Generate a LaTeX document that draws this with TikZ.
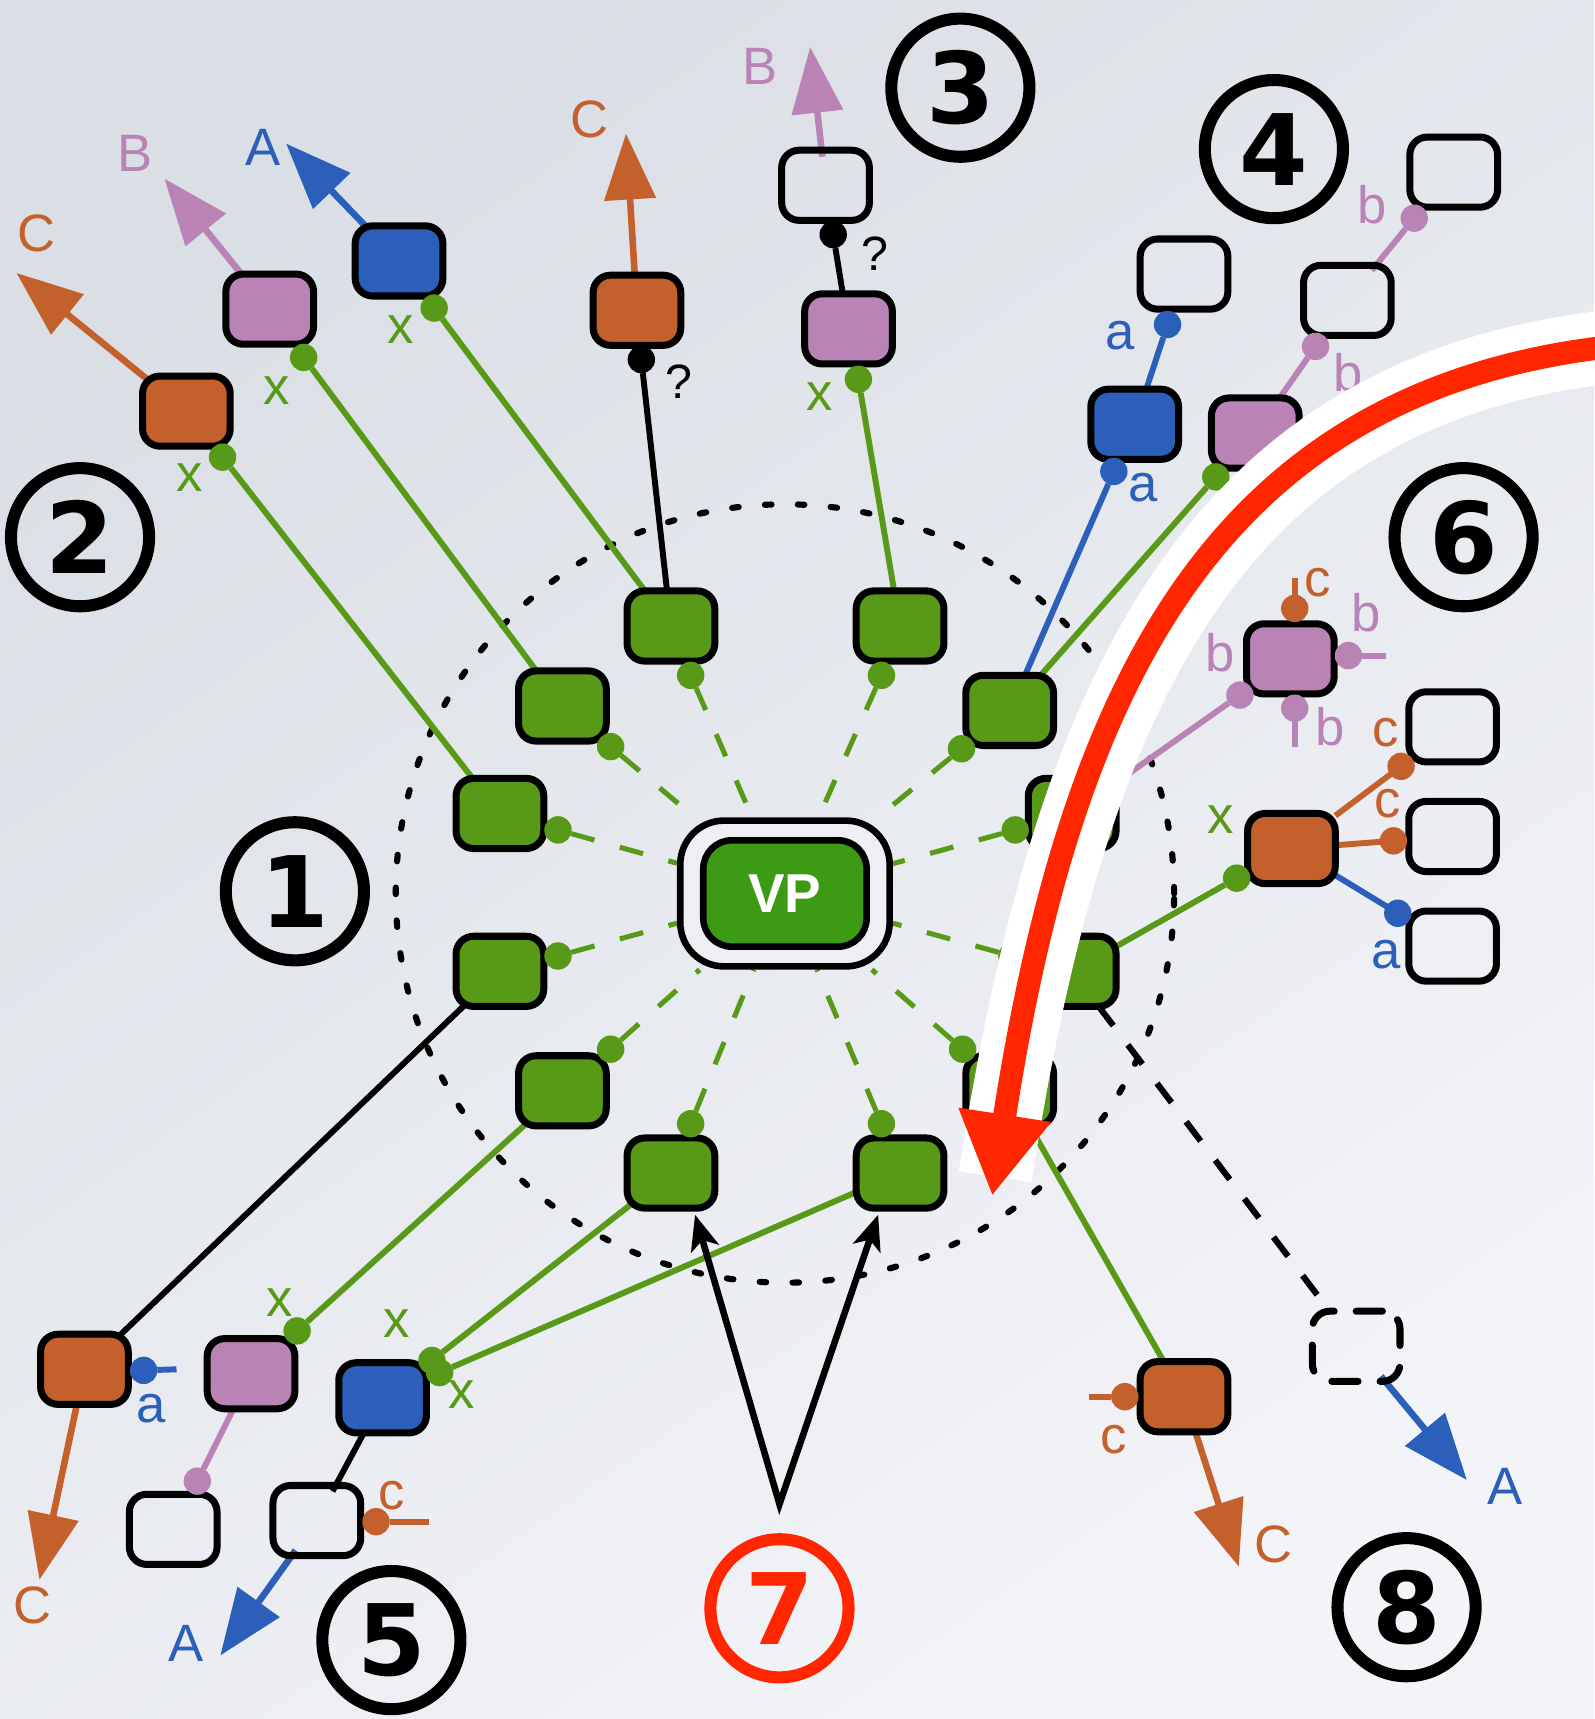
\documentclass[tikz,border=0pt]{standalone}
\usepackage{fontspec}
\setmainfont{Liberation Sans}
\newfontfamily\numfont{DejaVu Sans}
\usetikzlibrary{arrows.meta,calc}
\definecolor{bgA}{HTML}{DADFE5}
\definecolor{bgB}{HTML}{F3F4F8}
\definecolor{vpring}{HTML}{EDEFF3}
\definecolor{grn}{HTML}{589A17}
\definecolor{vpg}{HTML}{3C9A14}
\definecolor{org}{HTML}{C4602B}
\definecolor{pnk}{HTML}{B983B6}
\definecolor{blu}{HTML}{2B5FBA}
\definecolor{redc}{HTML}{FF2600}
\pgfdeclarelayer{back}
\pgfdeclarelayer{lines}
\pgfdeclarelayer{front}
\pgfsetlayers{back,lines,main,front}
\begin{document}
\begin{tikzpicture}[x=0.5pt,y=-0.5pt,
  rbox/.style={draw=black,line width=3.2pt,rounded corners=8pt,minimum width=40pt,minimum height=32pt,inner sep=0pt,outer sep=0pt},
  gbx/.style={rbox,fill=grn},
  obx/.style={rbox,fill=org},
  pbx/.style={rbox,fill=pnk},
  bbx/.style={rbox,fill=blu},
  wbx/.style={rbox},
  dbx/.style={rbox,dash pattern=on 12pt off 10pt,line cap=round},
  port/.style={circle,inner sep=0pt,outer sep=0pt,minimum size=12.5pt},
  gport/.style={port,fill=grn},
  oport/.style={port,fill=org},
  pport/.style={port,fill=pnk},
  bport/.style={port,fill=blu},
  kport/.style={port,fill=black},
  con/.style={line width=2.7pt,shorten >=-3pt},
  gcon/.style={con,draw=grn},
  ocon/.style={con,draw=org},
  pcon/.style={con,draw=pnk},
  bcon/.style={con,draw=blu},
  kcon/.style={con,draw=black},
  stub/.style={line width=2.7pt},
  gdash/.style={draw=grn,line width=2.3pt,dash pattern=on 11pt off 12pt},
  arr/.style={line width=3pt,shorten <=-3pt,-{Triangle[length=30pt,width=23pt]}},
  karr/.style={line width=3pt,line join=miter,{Stealth[length=16pt,width=13pt,inset=4pt]}-{Stealth[length=16pt,width=13pt,inset=4pt]}},
  lab/.style={inner sep=0pt,font=\fontsize{24}{24}\selectfont},
  qlab/.style={inner sep=0pt,font=\fontsize{22}{22}\selectfont,text=black},
  num/.style={circle,draw=black,line width=5.5pt,minimum size=63pt,inner sep=0pt,font=\numfont\bfseries\fontsize{45}{45}\selectfont},
]
\useasboundingbox (0,0) rectangle (1454,1568);
\begin{pgfonlayer}{back}
\shade[top color=bgA,bottom color=bgB,shading angle=35] (0,0) rectangle (1454,1568);
\draw[line width=2.8pt,dash pattern=on 3pt off 12pt,line cap=round] (716,815) circle[radius=177.5pt];
\end{pgfonlayer}

% ---------- central VP ----------
\node[draw=black,line width=3pt,fill=vpring,rounded corners=20pt,minimum width=95.5pt,minimum height=66.5pt,inner sep=0pt] (vpo) at (716,815) {};
\node[draw=black,line width=3pt,fill=vpg,rounded corners=13pt,minimum width=74.5pt,minimum height=48.5pt,inner sep=0pt,text=white,font=\bfseries\fontsize{25}{25}\selectfont] (vp) at (716,815) {VP};

% ---------- green satellites ----------
\node[gbx] (g1) at (612,571) {};
\node[gbx] (g2) at (821,571) {};
\node[gbx] (g3) at (513,644) {};
\node[gbx] (g4) at (921,648) {};
\node[gbx] (g5) at (456,742) {};
\node[gbx] (g6) at (978,742) {};
\node[gbx] (g7) at (456,886) {};
\node[gbx] (g8) at (978,886) {};
\node[gbx] (g9) at (513,995) {};
\node[gbx] (g10) at (921,995) {};
\node[gbx] (g11) at (612,1070) {};
\node[gbx] (g12) at (821,1070) {};

\node[gport] (d1) at (630,616) {};
\node[gport] (d2) at (804,616) {};
\node[gport] (d3) at (557,681) {};
\node[gport] (d4) at (877,683) {};
\node[gport] (d5) at (509,757) {};
\node[gport] (d6) at (926,757) {};
\node[gport] (d7) at (509,872) {};
\node[gport] (d8) at (923,872) {};
\node[gport] (d9) at (557,957) {};
\node[gport] (d10) at (878,957) {};
\node[gport] (d11) at (630,1025) {};
\node[gport] (d12) at (804,1025) {};

\begin{pgfonlayer}{lines}
\foreach \i in {1,...,12} \draw[gdash] (d\i) -- (vpo);
\end{pgfonlayer}

% ---------- group 2 ----------
\node[obx] (o2) at (170,375) {};
\node[pbx] (p2) at (246,282) {};
\node[bbx] (b2) at (364,238) {};
\node[gport] (x2o) at (203,417) {};
\node[gport] (x2p) at (277,326) {};
\node[gport] (x2b) at (396,281) {};
\coordinate (tC2) at (15,249);
\coordinate (tB2) at (150,163);
\coordinate (tA2) at (261,131);
\node[lab,text=org] (lC2) at (33,213) {C};
\node[lab,text=pnk] (lB2) at (123,140) {B};
\node[lab,text=blu] (lA2) at (240,134) {A};
\node[lab,text=grn] (lx2o) at (173,436) {x};
\node[lab,text=grn] (lx2p) at (252,356) {x};
\node[lab,text=grn] (lx2b) at (365,301) {x};

% ---------- group 3 ----------
\node[obx] (o3) at (581,283) {};
\node[kport] (q1) at (585,328) {};
\coordinate (tC3) at (571,122);
\node[lab,text=org] (lC3) at (538,109) {C};
\node[qlab] (lq1) at (619,348) {?};
\node[pbx] (p3) at (774,300) {};
\node[gport] (x3) at (783,346) {};
\node[lab,text=grn] (lx3) at (748,362) {x};
\node[wbx] (w3) at (753,169) {};
\node[kport] (q2) at (760,214) {};
\node[qlab] (lq2) at (798,231) {?};
\coordinate (tB3) at (739,43);
\node[lab,text=pnk] (lB3) at (693,61) {B};

% ---------- group 4 ----------
\node[bbx] (b4) at (1035,387) {};
\node[bport] (a4) at (1016,430) {};
\node[lab,text=blu] (la4) at (1043,445) {a};
\node[pbx] (p4) at (1145,395) {};
\node[gport] (x4) at (1109,435) {};
\node[wbx] (wa4) at (1080,250) {};
\node[bport] (a4b) at (1065,296) {};
\node[lab,text=blu] (la4b) at (1022,306) {a};
\node[wbx] (wb4) at (1229,274) {};
\node[pport] (pb4) at (1200,316) {};
\node[lab,text=pnk] (lb4) at (1230,340) {b};
\node[wbx] (wb5) at (1326,157) {};
\node[pport] (pb5) at (1290,199) {};
\node[lab,text=pnk] (lb5) at (1252,187) {b};

% ---------- group 6 ----------
\node[pbx] (pk6) at (1177,601) {};
\node[oport] (pc6) at (1181,555) {};
\coordinate (pc6s) at (1181,527);
\node[lab,text=org] (lc6) at (1202,531) {c};
\node[pport] (pr6) at (1230,598) {};
\coordinate (pr6s) at (1264,598);
\node[lab,text=pnk] (lbr6) at (1246,559) {b};
\node[pport] (pbt6) at (1181,646) {};
\coordinate (pbt6s) at (1181,681);
\node[lab,text=pnk] (lbb6) at (1213,663) {b};
\node[pport] (pl6) at (1131,634) {};
\node[lab,text=pnk] (lbl6) at (1113,595) {b};
\node[obx] (or6) at (1178,774) {};
\node[gport] (x6) at (1128,801) {};
\node[lab,text=grn] (lx6) at (1113,748) {x};
\node[wbx] (wc1) at (1325,663) {};
\node[oport] (c61) at (1278,699) {};
\node[lab,text=org] (lc61) at (1264,668) {c};
\node[wbx] (wc2) at (1325,763) {};
\node[oport] (c62) at (1271,767) {};
\node[lab,text=org] (lc62) at (1266,733) {c};
\node[wbx] (wa6) at (1325,863) {};
\node[bport] (a6) at (1275,833) {};
\node[lab,text=blu] (la6) at (1264,871) {a};

% ---------- group 5 ----------
\node[obx] (o5) at (77,1249) {};
\node[bport] (a5) at (131,1250) {};
\coordinate (a5s) at (161,1249);
\node[lab,text=blu] (la5) at (138,1285) {a};
\coordinate (tC5) at (36,1441);
\node[lab,text=org] (lC5) at (30,1464) {C};
\node[pbx] (p5) at (229,1253) {};
\node[gport] (x5) at (271,1214) {};
\node[lab,text=grn] (lx5) at (255,1188) {x};
\node[wbx] (wp5) at (158,1395) {};
\node[pport] (pp5) at (180,1351) {};
\node[bbx] (bl5) at (349,1275) {};
\node[gport] (x5a) at (394,1241) {};
\node[gport] (x5b) at (401,1252) {};
\node[lab,text=grn] (lx5a) at (362,1207) {x};
\node[lab,text=grn] (lx5b) at (421,1272) {x};
\node[wbx] (ww5) at (289,1387) {};
\node[oport] (c5) at (343,1388) {};
\coordinate (c5s) at (391,1388);
\node[lab,text=org] (lc5) at (357,1364) {c};
\coordinate (tA5) at (201,1510);
\node[lab,text=blu] (lA5) at (170,1499) {A};

% ---------- group 8 ----------
\node[obx] (o8) at (1080,1274) {};
\coordinate (o8top) at (1061,1241);
\node[oport] (c8) at (1026,1274) {};
\coordinate (c8s) at (993,1274);
\node[lab,text=org] (lc8) at (1016,1313) {c};
\coordinate (tC8) at (1130,1429);
\node[lab,text=org] (lC8) at (1162,1409) {C};
\node[dbx] (db) at (1237,1228) {};
\coordinate (tA8) at (1338,1350);
\node[lab,text=blu] (lA8) at (1373,1356) {A};

% ---------- group 7 ----------
\coordinate (apex) at (711,1372);
\coordinate (t11) at (634,1108);
\coordinate (t12) at (801,1108);

% ---------- circled numbers ----------
\node[num] (n1) at (269,813) {1};
\node[num] (n2) at (73,490) {2};
\node[num] (n3) at (876,80) {3};
\node[num] (n4) at (1162,136) {4};
\node[num] (n5) at (357,1496) {5};
\node[num] (n6) at (1335,490) {6};
\node[num,draw=redc,text=redc] (n7) at (711,1467) {7};
\node[num] (n8) at (1283,1466) {8};

% ---------- connectors ----------
\begin{pgfonlayer}{lines}
\draw[gcon] (x2o) -- (g5);
\draw[gcon] (x2p) -- (g3);
\draw[gcon] (x2b) -- (g1);
\draw[arr,draw=org,fill=org] (o2) -- (tC2);
\draw[arr,draw=pnk,fill=pnk] (p2) -- (tB2);
\draw[arr,draw=blu,fill=blu] (b2) -- (tA2);

\draw[kcon] (q1) -- (g1);
\draw[arr,draw=org,fill=org] (o3) -- (tC3);
\draw[gcon] (x3) -- (g2);
\draw[kcon] (q2) -- (p3);
\draw[arr,draw=pnk,fill=pnk] (w3) -- (tB3);

\draw[bcon] (a4) -- (g4);
\draw[gcon] (x4) -- (g4);
\draw[bcon] (a4b) -- (b4);
\draw[pcon] (pb4) -- (p4);
\draw[pcon] (pb5) -- (wb4);

\draw[stub,draw=org] (pc6) -- (pc6s);
\draw[stub,draw=pnk] (pr6) -- (pr6s);
\draw[stub,draw=pnk] (pbt6) -- (pbt6s);
\draw[pcon] (pl6) -- (g6);
\draw[gcon] (x6) -- (g8);
\draw[ocon] (or6) -- (c61);
\draw[ocon] (or6) -- (c62);
\draw[bcon] (or6) -- (a6);

\draw[kcon] (o5) -- (g7);
\draw[stub,draw=blu] (a5) -- (a5s);
\draw[arr,draw=org,fill=org] (o5) -- (tC5);
\draw[gcon] (x5) -- (g9);
\draw[pcon] (pp5) -- (p5);
\draw[gcon] (x5a) -- (g11);
\draw[gcon] (x5b) -- (g12);
\draw[kcon] (bl5) -- (ww5);
\draw[stub,draw=org] (c5) -- (c5s);
\draw[arr,draw=blu,fill=blu] (ww5) -- (tA5);

\draw[gcon] (g10) -- (o8top);
\draw[stub,draw=org] (c8) -- (c8s);
\draw[arr,draw=org,fill=org] (o8) -- (tC8);
\draw[line width=2.8pt,dash pattern=on 11pt off 11pt] (g8) -- (db);
\draw[arr,draw=blu,fill=blu] (db) -- (tA8);

\draw[karr] (t11) -- (apex) -- (t12);
\end{pgfonlayer}

% ---------- big red arrow ----------
\begin{pgfonlayer}{front}
\coordinate (ra) at (1454,318);
\coordinate (rb) at (905,1091);
\draw[white,line width=33.5pt,shorten >=9pt] (1520,309) -- (ra) .. controls (1100,365) and (975,640) .. (rb);
\draw[redc,line width=10.5pt,-{Triangle[length=37.5pt,width=40pt]}] (1520,309) -- (ra) .. controls (1100,365) and (975,640) .. (rb);
\end{pgfonlayer}
\end{tikzpicture}
\end{document}
